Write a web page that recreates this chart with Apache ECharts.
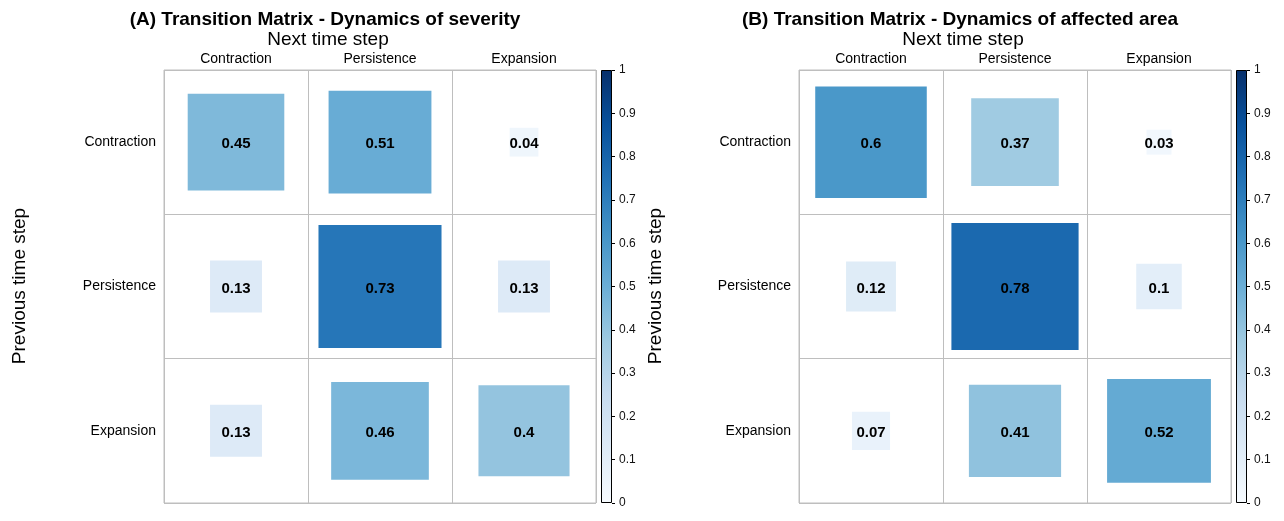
<!DOCTYPE html>
<html>
<head>
<meta charset="utf-8">
<script src="https://cdn.jsdelivr.net/npm/echarts@6/dist/echarts.min.js"></script>
<style>
html,body{margin:0;padding:0;background:#fff;}
#chart{width:1284px;height:521px;}
</style>
</head>
<body>
<div id="chart"></div>
<script>
// ---- data ----
var categories = ['Contraction', 'Persistence', 'Expansion'];
var severityContraction = [0.45, 0.51, 0.04];
var severityPersistence = [0.13, 0.73, 0.13];
var severityExpansion   = [0.13, 0.46, 0.4];
var areaContraction = [0.6, 0.37, 0.03];
var areaPersistence = [0.12, 0.78, 0.1];
var areaExpansion   = [0.07, 0.41, 0.52];
var colorbarTicks = [0, 0.1, 0.2, 0.3, 0.4, 0.5, 0.6, 0.7, 0.8, 0.9, 1];
var titleA = '(A) Transition Matrix - Dynamics of severity';
var titleB = '(B) Transition Matrix - Dynamics of affected area';
var xName = 'Next time step';
var yName = 'Previous time step';

var blues = ['#F7FBFF','#DEEBF7','#C6DBEF','#9ECAE1','#6BAED6','#4292C6','#2171B5','#08519C','#08306B'];
var FONT = '"Liberation Sans", Arial, Helvetica, sans-serif';

function toTriples(rows) {
  var out = [];
  rows.forEach(function (row, yi) {
    row.forEach(function (v, xi) { out.push([xi, yi, v]); });
  });
  return out;
}
var dataA = toTriples([severityContraction, severityPersistence, severityExpansion]);
var dataB = toTriples([areaContraction, areaPersistence, areaExpansion]);

var CELL = 144;
var gridH = 433;
var gridTop = 70;

function matrixAxes(gi) {
  return {
    x: {
      type: 'category', data: categories, gridIndex: gi, position: 'top',
      axisLine: {show: false}, axisTick: {show: false},
      axisLabel: {fontFamily: FONT, fontSize: 14, color: '#000', margin: 4},
      splitLine: {show: true, lineStyle: {color: '#BEBEBE', width: 1}}
    },
    y: {
      type: 'category', data: categories, gridIndex: gi, inverse: true,
      axisLine: {show: false}, axisTick: {show: false},
      axisLabel: {fontFamily: FONT, fontSize: 14, color: '#000', margin: 8},
      splitLine: {show: true, lineStyle: {color: '#BEBEBE', width: 1}}
    }
  };
}
function barAxes(gi) {
  return {
    x: {type: 'category', data: ['c'], gridIndex: gi, show: false},
    y: {
      type: 'value', gridIndex: gi, min: colorbarTicks[0], max: colorbarTicks[colorbarTicks.length - 1],
      interval: 0.1, position: 'right',
      axisLine: {show: false},
      axisTick: {show: true, length: 3, lineStyle: {color: '#000'}},
      axisLabel: {fontFamily: FONT, fontSize: 12, color: '#111', margin: 7},
      splitLine: {show: false}
    }
  };
}
var mA = matrixAxes(0), cA = barAxes(1), mB = matrixAxes(2), cB = barAxes(3);

function scatterSeries(xi, data) {
  return {
    type: 'scatter', xAxisIndex: xi, yAxisIndex: xi, data: data,
    symbol: 'rect',
    symbolSize: function (val) { return Math.sqrt(val[2]) * CELL; },
    itemStyle: {opacity: 1},
    label: {
      show: true, position: 'inside', color: '#000', fontFamily: FONT,
      fontSize: 15, fontWeight: 'bold', offset: [0, 2],
      formatter: function (p) { return String(p.value[2]); }
    },
    emphasis: {disabled: true},
    silent: true
  };
}
function gradientBar(xi) {
  return {
    type: 'bar', xAxisIndex: xi, yAxisIndex: xi, data: [1], barWidth: '100%',
    silent: true,
    itemStyle: {
      borderColor: '#000', borderWidth: 1,
      color: new echarts.graphic.LinearGradient(0, 1, 0, 0,
        blues.map(function (c, i) { return {offset: i / (blues.length - 1), color: c}; }))
    }
  };
}

function txt(x, y, text, size, bold, rot) {
  return {
    type: 'text', x: x, y: y, rotation: rot || 0,
    style: {
      text: text, fontFamily: FONT, fontSize: size, fontWeight: bold ? 'bold' : 'normal',
      fill: '#000', textAlign: 'center', textVerticalAlign: 'middle'
    }
  };
}

var chart = echarts.init(document.getElementById('chart'));
chart.setOption({
  backgroundColor: '#fff',
  animation: false,
  grid: [
    {left: 164, top: gridTop, width: 432, height: gridH, show: true, borderColor: '#BEBEBE', borderWidth: 1},
    {left: 601, top: gridTop, width: 11, height: gridH},
    {left: 799, top: gridTop, width: 432, height: gridH, show: true, borderColor: '#BEBEBE', borderWidth: 1},
    {left: 1236, top: gridTop, width: 11, height: gridH}
  ],
  xAxis: [mA.x, cA.x, mB.x, cB.x],
  yAxis: [mA.y, cA.y, mB.y, cB.y],
  visualMap: {
    type: 'continuous', min: 0, max: 1, dimension: 2, seriesIndex: [0, 2], show: false,
    inRange: {color: blues}
  },
  series: [scatterSeries(0, dataA), gradientBar(1), scatterSeries(2, dataB), gradientBar(3)],
  graphic: [
    txt(325, 20, titleA, 19, true),
    txt(328, 40, xName, 19, false),
    txt(20, 286, yName, 19, false, Math.PI / 2),
    txt(960, 20, titleB, 19, true),
    txt(963, 40, xName, 19, false),
    txt(656, 286, yName, 19, false, Math.PI / 2)
  ]
});
</script>
</body>
</html>
